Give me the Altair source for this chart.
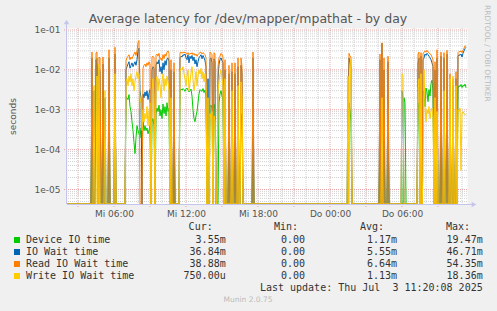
import altair as alt
import pandas as pd

# ---------------- data (5-minute samples, step 0 = Wed 02:05) ----------------
step = ([0, 24, 25, 26, 27, 28, 29, 30, 31, 32, 33, 34, 35, 36, 37, 38, 39, 41, 42, 43, 47, 48, 49, 58]
        + list(range(59, 110))
        + list(range(112, 160))
        + list(range(161, 177))
        + [185, 186, 187]
        + [280, 281, 282, 283, 284, 285]
        + [312, 313, 314, 315, 316, 317, 318]
        + [320, 321, 322]
        + [334, 335, 336, 337, 338, 339]
        + list(range(350, 400)))

# values in milliseconds
device_ms = ([0, 0, 3, 0, 0, 0, 12, 19.5, 0, 2, 0, 0, 0, 3, 0, 0, 0, 0, 2, 0, 0, 4, 0, 0]
             + [2.1, 2.0, 1.8, 2.4, 1.2, 0.9, 0.5, 0.3, 0.15, 0.08,
                0.2, 0.4, 0.3, 0.25, 0.2, 0.35, 0.3, 0.5, 0.3, 0.4,
                0.3, 0.35, 0.25, 0.3, 0.4,
                0, 0.5, 0.6, 0.4, 0,
                0.8, 1.1, 0.9, 1.3, 0.7, 1.0, 0.6, 1.4, 0.8, 1.2,
                0.7, 1.5, 0.9, 1.1, 0, 0.6, 0, 0, 0.8, 0, 0]
             + [0, 3.0, 3.3, 3.1, 3.4, 3.2, 2.9, 3.3, 3.5, 3.1, 2.8,
                3.0, 3.3, 2.2, 1.0, 0.6, 0.5, 0.7, 0.9, 1.5, 2.5,
                3.2, 3.0, 2.9, 3.4, 2.7, 3.1, 2.0, 0, 0.8, 0,
                1.2, 1.3, 1.1, 0, 1.4, 1.0, 0, 0, 0, 1.5,
                2.5, 3.0, 2.2, 1.8, 0, 1.2, 0]
             + [0, 0.5, 0, 0, 0.4, 0, 0, 0.3, 0, 0, 0.6, 0, 0, 0.8, 0.5, 0]
             + [0, 0.3, 0]
             + [0, 0, 1.5, 1.0, 0.5, 0]
             + [0, 0.4, 0, 0.5, 0, 0.3, 0]
             + [0, 0.6, 0]
             + [0, 0, 0, 2.0, 1.5, 0]
             + [0, 1.0, 1.5, 0, 2.0, 0, 3.0, 2.5, 1.2, 3.5,
                2.8, 1.6, 3.2, 2.2, 4.5, 5.5, 3.0, 0, 5.0, 0,
                2.0, 0, 0, 0, 1.5, 0, 0, 0.8, 0, 0,
                1.2, 0, 0, 0.5, 0, 0, 0.6, 0, 0, 0.9,
                0, 3.5, 4.0, 3.8, 4.3, 3.6, 4.1, 3.9, 4.4, 3.55])

iowait_ms = ([0, 0, 20, 0, 3, 0, 18, 13, 0, 11, 9, 0, 0, 14, 0, 2, 0, 0, 20, 0, 0, 25, 0, 0]
             + [10, 12, 14, 16, 11, 13, 15, 12, 14, 16,
                13, 18, 30, 35, 3, 2, 0, 2.5, 2, 2.8,
                2.2, 3, 1.8, 2.6, 3.2,
                0, 10, 12, 11, 0,
                13, 16, 14, 18, 9, 12, 8, 15, 10, 17,
                13, 19, 20, 16, 0, 10, 0, 0, 9, 0, 0]
             + [0, 20, 22, 21, 24, 23, 25, 20, 18, 24, 15,
                22, 19, 23, 17, 21, 14, 18, 12, 16, 20,
                22, 24, 19, 23, 20, 17, 12, 0, 6, 0,
                18, 20, 15, 0, 19, 16, 0, 0, 6, 14,
                18, 20, 17, 15, 0, 10, 0]
             + [0, 8, 0, 0, 9, 0, 0, 8, 0, 0, 12, 0, 0, 13, 8, 0]
             + [0, 20, 0]
             + [0, 3, 20, 15, 12, 0]
             + [0, 18, 0, 46.7, 0, 10, 0]
             + [0, 16, 0]
             + [0, 3, 2, 0, 0, 0]
             + [0, 15, 20, 0, 22, 0, 18, 20, 25, 23,
                26, 24, 22, 20, 18, 15, 12, 0, 10, 0,
                20, 0, 0, 0, 22, 0, 0, 20, 0, 0,
                25, 0, 0, 5, 0, 0, 4, 0, 0, 6,
                0, 22, 24, 23, 25, 21, 26, 30, 34, 36.84])

read_ms = ([0, 0, 28, 0, 0, 0, 27, 28, 0, 21, 20, 0, 0, 21, 0, 0, 0, 0, 32, 0, 0, 37, 0, 0]
           + [17, 20, 22, 24, 18, 21, 19, 22, 25, 28,
              23, 30, 48, 54.35, 0, 0, 0, 11, 13, 14,
              12, 15, 13, 16, 14,
              0, 21, 22, 20, 0,
              23, 25, 22, 26, 18, 20, 17, 24, 19, 25,
              22, 28, 30, 26, 0, 18, 0, 0, 15, 0, 0]
           + [0, 27, 28, 26, 28, 27, 28, 26, 25, 27, 24,
              26, 25, 27, 24, 26, 23, 25, 22, 24, 26,
              27, 28, 25, 27, 26, 24, 20, 0, 0, 0,
              28, 26, 24, 0, 27, 25, 0, 0, 12, 20,
              22, 26, 24, 21, 0, 18, 0]
           + [0, 13, 0, 0, 15, 0, 0, 15, 0, 0, 20, 0, 0, 20, 12, 0]
           + [0, 28, 0]
           + [0, 0, 26, 22, 21, 0]
           + [0, 25, 0, 47.5, 0, 20, 0]
           + [0, 22, 0]
           + [0, 0, 0, 0, 0, 0]
           + [0, 25, 28, 0, 27, 0, 26, 27, 30, 28,
              31, 28, 27, 25, 24, 21, 18, 0, 16, 0,
              32, 0, 0, 0, 28, 0, 0, 27, 0, 0,
              31, 0, 0, 8, 0, 0, 6, 0, 0, 9,
              0, 27, 29, 28, 30, 27, 31, 35, 40, 38.88])

write_ms = ([0, 0, 0, 0, 4, 0, 0, 7, 0, 14, 0, 0, 0, 0, 0, 3, 0, 0, 0, 0, 0, 8, 0, 0]
            + [5, 6, 4, 7, 5, 8, 4, 6, 3, 5,
               7, 9, 6, 8, 2, 1.5, 0.3, 1, 0.5, 0.8,
               0.6, 1.2, 0.4, 0.9, 1.5,
               0, 3, 6, 2, 0,
               5, 7, 3, 6, 4, 2, 5, 8, 3, 6,
               4, 7, 5, 3, 0, 2, 0, 0, 0, 0, 0]
            + [0, 9, 11, 10, 12, 8, 6, 4, 7, 10, 3,
               5, 8, 12, 6, 3, 5, 9, 4, 7, 10,
               8, 11, 6, 9, 5, 8, 4, 0, 2, 0,
               0.8, 0.6, 0.9, 0, 0.7, 0.5, 0, 0, 3, 5,
               8, 10, 6, 4, 0, 6, 0]
            + [0, 0, 0, 0, 3, 0, 0, 0, 0, 0, 4, 0, 0, 5, 2, 0]
            + [0, 0, 0]
            + [0, 7, 0, 4, 18.36, 0]
            + [0, 0, 0, 2, 0, 0, 0]
            + [0, 0, 0]
            + [0, 8, 7, 0, 0, 0]
            + [0, 3, 6, 0, 8, 0, 0.02, 10, 1.3, 0.5,
               1.0, 0.8, 1.2, 0.6, 0.9, 1.1, 0.7, 0, 2, 0,
               0.9, 0, 0, 0, 0, 0, 0, 3, 0, 0,
               0, 0, 0, 6, 0, 0, 7, 0, 0, 4,
               0, 1.0, 0.9, 1.1, 0.03, 0.8, 0.9, 0.8, 0.75, 0.75])

series_names = ["Device IO time", "IO Wait time", "Read IO Wait time", "Write IO Wait time"]
series_colors = ["#00CC00", "#0066B3", "#FF8000", "#FFCC00"]
cur_vals = ["3.55m", "36.84m", "38.88m", "750.00u"]
min_vals = ["0.00", "0.00", "0.00", "0.00"]
avg_vals = ["1.17m", "5.55m", "6.64m", "1.13m"]
max_vals = ["19.47m", "46.71m", "54.35m", "18.36m"]

tick_minutes = [360, 720, 1080, 1440, 1800]
tick_labels = ["Mi 06:00", "Mi 12:00", "Mi 18:00", "Do 00:00", "Do 06:00"]
ytick_values = [1e-5, 1e-4, 1e-3, 1e-2, 1e-1]
ytick_labels = ["1e-05", "1e-04", "1e-03", "1e-02", "1e-01"]

title_text = "Average latency for /dev/mapper/mpathat - by day"
last_update = "Last update: Thu Jul\u00a0 3 11:20:08 2025"

# ---------------- build tables ----------------
series_data = [device_ms, iowait_ms, read_ms, write_ms]
for s in series_data:
    assert len(s) == len(step), (len(s), len(step))

rows = []
for name, vals in zip(series_names, series_data):
    for s, v in zip(step, vals):
        rows.append({"series": name, "minute": 125 + 5 * s, "sec": v / 1000.0})
df = pd.DataFrame(rows)

major_x = list(range(180, 2125, 180))
minor_x = [m for m in range(180, 2125, 60) if m not in major_x]
major_y = ytick_values
minor_y = [k * 10.0 ** n for n in range(-6, -1) for k in range(2, 10) if 4.4e-6 < k * 10.0 ** n < 0.11]

W, H = 400, 176
xs = alt.Scale(domain=[125, 2125], nice=False, zero=False)
ys = alt.Scale(type="log", domain=[4.33e-6, 0.1122], nice=False, clamp=True)


def lookup_expr(values, labels):
    expr = "''"
    for v, l in zip(values, labels):
        expr = f"(abs(datum.value - ({v!r})) <= {abs(v) * 0.001!r}) ? '{l}' : ({expr})"
    return expr


one = pd.DataFrame({"a": [0]})
AX = "#C4C4EC"
FONT = "DejaVu Sans"
MONO = "DejaVu Sans Mono"
TXT = "#555555"

# the same axis definition is given to every layer that uses a scale, so they merge cleanly
x_axis = alt.Axis(values=tick_minutes, labelExpr=lookup_expr(tick_minutes, tick_labels),
                  grid=False, domain=False, ticks=False, title=None, labelFont=FONT,
                  labelFontSize=9, labelColor=TXT, labelPadding=5, labelFlush=False,
                  labelOverlap=False, labelBaseline="top")
y_axis = alt.Axis(values=ytick_values, labelExpr=lookup_expr(ytick_values, ytick_labels),
                  grid=False, domain=False, ticks=False, labelFont=FONT, labelFontSize=9,
                  labelColor=TXT, labelPadding=7, labelOverlap=False, labelFlush=False,
                  title="seconds", titleFont=FONT, titleFontSize=9, titleFontWeight="normal",
                  titleColor=TXT, titleX=-55, titleY=88, titleAlign="center",
                  titleBaseline="middle", titleAngle=270)

vmajor = alt.Chart(pd.DataFrame({"m": major_x})).mark_rule(
    color="#EAA6A6", strokeDash=[1, 1], strokeWidth=1).encode(
    x=alt.X("m:Q", scale=xs, axis=x_axis), y=alt.value(0), y2=alt.value(H + 3))
hmajor = alt.Chart(pd.DataFrame({"v": major_y})).mark_rule(
    color="#EAA6A6", strokeDash=[1, 1], strokeWidth=1).encode(
    y=alt.Y("v:Q", scale=ys, axis=y_axis), x=alt.value(-3), x2=alt.value(W))
vminor = alt.Chart(pd.DataFrame({"m": minor_x})).mark_rule(
    color="#D0D0D0", strokeDash=[1, 1], strokeWidth=1).encode(
    x=alt.X("m:Q", scale=xs, axis=x_axis))
hminor = alt.Chart(pd.DataFrame({"v": minor_y})).mark_rule(
    color="#D0D0D0", strokeDash=[1, 1], strokeWidth=1).encode(
    y=alt.Y("v:Q", scale=ys, axis=y_axis))

lines = []
for name, col in zip(series_names, series_colors):
    lines.append(
        alt.Chart(df).transform_filter(alt.datum.series == name)
        .transform_calculate(v="max(datum.sec, 1e-9)")
        .mark_line(color=col, strokeWidth=1, clip=True)
        .encode(x=alt.X("minute:Q", scale=xs, axis=x_axis),
                y=alt.Y("v:Q", scale=ys, axis=y_axis),
                order=alt.Order("minute:Q"))
    )

xline = alt.Chart(one).mark_rule(color=AX, strokeWidth=1).encode(
    x=alt.value(0), x2=alt.value(W + 6), y=alt.value(H + 0.5))
yline = alt.Chart(one).mark_rule(color=AX, strokeWidth=1).encode(
    x=alt.value(-0.5), y=alt.value(-5), y2=alt.value(H))
xarrow = alt.Chart(one).mark_point(shape="triangle-right", filled=True, size=30, color=AX, opacity=1).encode(
    x=alt.value(W + 7), y=alt.value(H + 0.5))
yarrow = alt.Chart(one).mark_point(shape="triangle-up", filled=True, size=30, color=AX, opacity=1).encode(
    x=alt.value(-0.5), y=alt.value(-6))

title = alt.Chart(one).mark_text(font=FONT, fontSize=12.5, color="#555555", align="center",
                                 baseline="middle").encode(
    x=alt.value(181), y=alt.value(-9), text=alt.value(title_text))
rrd = alt.Chart(one).mark_text(font=FONT, fontSize=7.5, color="#BBBBBB", align="left",
                               baseline="middle", angle=90).encode(
    x=alt.value(420), y=alt.value(-23), text=alt.value("RRDTOOL / TOBI OETIKER"))
munin = alt.Chart(one).mark_text(font=FONT, fontSize=7.5, color="#BBBBBB", align="center",
                                 baseline="middle").encode(
    x=alt.value(181), y=alt.value(272), text=alt.value("Munin 2.0.75"))

# ---------------- legend (rows placed with a yOffset scale) ----------------
LEG = "#333333"
leg_df = pd.DataFrame({"row": [0, 1, 2, 3], "name": series_names, "cur": cur_vals,
                       "min": min_vals, "avg": avg_vals, "max": max_vals})
lyo = alt.YOffset("row:Q", scale=alt.Scale(domain=[0, 3], range=[0, 36]))
LEG_Y0 = 212

squares = alt.Chart(leg_df).mark_square(size=36, opacity=1).encode(
    x=alt.value(-50), y=alt.value(LEG_Y0), yOffset=lyo,
    color=alt.Color("name:N", scale=alt.Scale(domain=series_names, range=series_colors), legend=None))


def col_text(field, xpos, align):
    return alt.Chart(leg_df).mark_text(font=MONO, fontSize=10, color=LEG, align=align,
                                       baseline="middle").encode(
        x=alt.value(xpos), y=alt.value(LEG_Y0), yOffset=lyo, text=alt.Text(f"{field}:N"))


def fixed_text(txt, xpos, ypos):
    return alt.Chart(one).mark_text(font=MONO, fontSize=10, color=LEG, align="right",
                                    baseline="middle").encode(
        x=alt.value(xpos), y=alt.value(ypos), text=alt.value(txt))


chart = alt.layer(
    vmajor, hmajor, vminor, hminor, *lines, xline, yline, xarrow, yarrow,
    title, rrd, munin,
    squares,
    col_text("name", -41, "left"),
    col_text("cur", 158.7, "right"),
    col_text("min", 238, "right"),
    col_text("avg", 330, "right"),
    col_text("max", 415.7, "right"),
    fixed_text("Cur:", 145.7, 199),
    fixed_text("Min:", 231, 199),
    fixed_text("Avg:", 317, 199),
    fixed_text("Max:", 403, 199),
    fixed_text(last_update, 415.7, 260),
).properties(
    width=W, height=H,
    padding={"left": 67, "top": 28, "right": 30, "bottom": 107},
    autosize=alt.AutoSizeParams(type="none"),
    background="#F0F0F0",
).configure_view(fill="white", stroke="transparent")

chart.save("out.html", embed_options={"renderer": "svg", "actions": False})
